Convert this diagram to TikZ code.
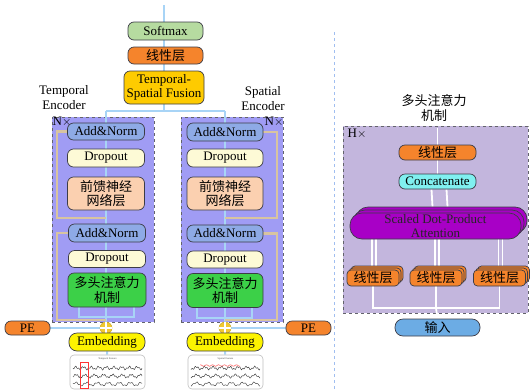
\documentclass[tikz,border=0pt]{standalone}
\usepackage{fontspec}
\setmainfont{Liberation Serif}
\newfontfamily\cjk{Noto Sans CJK SC}
\definecolor{bd}{RGB}{60,60,70}
\definecolor{lblue}{RGB}{168,212,246}
\definecolor{tanc}{RGB}{216,196,160}
\definecolor{encfill}{RGB}{160,156,244}
\definecolor{anfill}{RGB}{142,170,230}
\definecolor{dofill}{RGB}{253,250,214}
\definecolor{fffill}{RGB}{251,208,176}
\definecolor{mhafill}{RGB}{60,208,72}
\definecolor{smfill}{RGB}{182,219,160}
\definecolor{orng}{RGB}{245,132,44}
\definecolor{fusfill}{RGB}{254,203,0}
\definecolor{embfill}{RGB}{252,243,0}
\definecolor{goldc}{RGB}{240,200,48}
\definecolor{hfill}{RGB}{195,182,221}
\definecolor{catfill}{RGB}{128,240,240}
\definecolor{sdpafill}{RGB}{168,0,198}
\definecolor{infill}{RGB}{108,172,228}
\definecolor{sepc}{RGB}{160,190,240}
\pgfdeclarelayer{back}
\pgfdeclarelayer{mid}
\pgfsetlayers{back,mid,main}
\tikzset{
  nd/.style={draw=bd, line width=0.7pt, rounded corners=6pt, inner sep=0pt, align=center,
    font=\fontsize{13}{14.5}\selectfont, minimum width=76pt},
  bl/.style={draw=lblue, line width=2pt},
  tanl/.style={draw=tanc, line width=2.5pt},
  wl/.style={draw=white, line width=1.8pt},
  dashbox/.style={draw=bd!80, dashed, line width=0.8pt, inner sep=0pt},
  lbl/.style={inner sep=0pt, align=center, font=\fontsize{13}{15}\selectfont},
  feat/.style={draw=black!25, fill=white, rounded corners=4pt, line width=0.6pt, inner sep=0pt,
    minimum width=75pt, minimum height=34pt},
  wave/.style={line width=0.45pt, black!75},
}
\begin{document}
\begin{tikzpicture}[x=1pt,y=-1pt]
\useasboundingbox (0,0) rectangle (530,389);
% ---------- top stack ----------
\coordinate (top) at (164,5);
\node[nd, fill=smfill, minimum width=75pt, minimum height=18pt] (sm) at (165.5,31) {Softmax};
\node[nd, fill=orng, minimum width=75pt, minimum height=17pt] (lt) at (165.5,55.5) {\cjk 线性层};
\node[nd, fill=fusfill, minimum width=80pt, minimum height=33pt] (fus) at (164,87.5) {Temporal-\\Spatial Fusion};
\coordinate (jc) at (164,111);
\coordinate (jl) at (106,111);
\coordinate (jr) at (225,111);
\node[lbl] (tlab) at (64,98) {Temporal\\Encoder};
\node[lbl] (slab) at (263,99) {Spatial\\Encoder};
% ---------- encoder boxes ----------
\begin{pgfonlayer}{back}
\node[dashbox, fill=encfill, minimum width=102pt, minimum height=205pt] (encL) at (103,219.5) {};
\node[dashbox, fill=encfill, minimum width=102pt, minimum height=205pt] (encR) at (232,219.5) {};
\node[dashbox, fill=hfill, minimum width=185pt, minimum height=187pt] (hb) at (435.5,219.5) {};
\end{pgfonlayer}
\node[lbl] (nxl) at (62,122) {N$\times$};
\node[lbl] (nxr) at (274,122) {N$\times$};
% left encoder nodes
\node[nd, fill=anfill, minimum width=77pt, minimum height=17pt] (an1L) at (106,131.5) {Add\&Norm};
\node[nd, fill=dofill, minimum width=77pt, minimum height=18pt] (do1L) at (106,158) {Dropout};
\node[nd, fill=fffill, minimum width=77pt, minimum height=33pt] (ffL) at (106,193.5) {\cjk 前馈神经\\\cjk 网络层};
\node[nd, fill=anfill, minimum width=77pt, minimum height=18pt] (an2L) at (107,233) {Add\&Norm};
\node[nd, fill=dofill, minimum width=77pt, minimum height=17pt] (do2L) at (107,259) {Dropout};
\node[nd, fill=mhafill, minimum width=78pt, minimum height=34pt] (mhaL) at (107,290) {\cjk 多头注意力\\\cjk 机制};
% right encoder nodes
\node[nd, fill=anfill, minimum width=76pt, minimum height=18pt] (an1R) at (225,132) {Add\&Norm};
\node[nd, fill=dofill, minimum width=76pt, minimum height=18pt] (do1R) at (225,158) {Dropout};
\node[nd, fill=fffill, minimum width=76pt, minimum height=33pt] (ffR) at (225,193.5) {\cjk 前馈神经\\\cjk 网络层};
\node[nd, fill=anfill, minimum width=76pt, minimum height=17pt] (an2R) at (225,233.5) {Add\&Norm};
\node[nd, fill=dofill, minimum width=76pt, minimum height=17pt] (do2R) at (225,259.5) {Dropout};
\node[nd, fill=mhafill, minimum width=76pt, minimum height=34pt] (mhaR) at (225,290.5) {\cjk 多头注意力\\\cjk 机制};
% plus circles, PE, embedding
\node[circle, fill=goldc, draw=goldc!85!black, line width=0.5pt, minimum size=12pt, inner sep=0pt] (plL) at (106,328) {};
\node[circle, fill=goldc, draw=goldc!85!black, line width=0.5pt, minimum size=12pt, inner sep=0pt] (plR) at (225,328) {};
\draw[white, line width=1.3pt] (plL.north) -- (plL.south) (plL.west) -- (plL.east);
\draw[white, line width=1.3pt] (plR.north) -- (plR.south) (plR.west) -- (plR.east);
\node[nd, fill=orng, minimum width=45pt, minimum height=14pt] (peL) at (27.5,328) {PE};
\node[nd, fill=orng, minimum width=45pt, minimum height=14pt] (peR) at (308.5,328) {PE};
\node[nd, fill=embfill, minimum width=76pt, minimum height=18pt, rounded corners=8pt] (embL) at (107,342) {Embedding};
\node[nd, fill=embfill, minimum width=76pt, minimum height=18pt, rounded corners=8pt] (embR) at (225,342) {Embedding};
% feature images
\node[feat] (ftL) at (107.5,372) {};
\node[feat] (ftR) at (225.5,372) {};
\node[inner sep=0pt, font=\fontsize{2.6}{3}\selectfont, text=black!70] (ftLt) at (107.5,359) {Temporal Feature};
\node[inner sep=0pt, font=\fontsize{2.6}{3}\selectfont, text=black!70] (ftRt) at (225.5,359) {Spatial Feature};
\draw[wave] plot[domain=73:142, samples=90] (\x, {368+1.2*sin((\x-70)*47)+0.9*sin((\x-70)*113)});
\draw[wave] plot[domain=73:142, samples=90] (\x, {376+1.4*sin((\x-70)*39+40)+0.8*sin((\x-70)*131)});
\draw[wave] plot[domain=73:142, samples=90] (\x, {384+1.5*sin((\x-70)*33+80)+0.7*sin((\x-70)*97)});
\draw[red!80, line width=0.5pt] (80,362) rectangle (88,388);
\draw[wave] plot[domain=191:260, samples=90] (\x, {368+1.2*sin((\x-190)*43)+0.9*sin((\x-190)*121)});
\draw[red!70, line width=0.45pt] plot[domain=200:240, samples=40] (\x, {365.5+0.8*sin((\x-190)*60)});
\draw[wave] plot[domain=191:260, samples=90] (\x, {376+1.4*sin((\x-190)*37+30)+0.8*sin((\x-190)*109)});
\draw[wave] plot[domain=191:260, samples=90] (\x, {384+1.5*sin((\x-190)*31+70)+0.7*sin((\x-190)*89)});
% ---------- left-side connectors ----------
\begin{pgfonlayer}{mid}
\draw[bl] (top) -- (jc);
\draw[bl] (jl) -- (jr);
\draw[bl] (jl) -- (plL);
\draw[bl] (jr) -- (plR);
\draw[bl] ([xshift=-28pt]mhaL.south) -- ++(0,10) -| ([xshift=27pt]mhaL.south);
\draw[bl] ([xshift=-28pt]mhaR.south) -- ++(0,10) -| ([xshift=27pt]mhaR.south);
\draw[bl] (peL) -- (plL);
\draw[bl] (peR) -- (plR);
\draw[bl] (plL) -- (embL) -- (ftL);
\draw[bl] (plR) -- (embR) -- (ftR);
\draw[tanl] (an1L.west) -- (57,131.5) |- (106,218);
\draw[tanl] (an2L.west) -- (57,233) |- (106,320);
\draw[tanl] (an1R.east) -- (277,132) |- (225,218);
\draw[tanl] (an2R.east) -- (277,233.5) |- (225,320);
\end{pgfonlayer}
% ---------- separator ----------
\coordinate (s1) at (334,32);
\coordinate (s2) at (334,389);
\draw[sepc, line width=0.9pt, dash pattern=on 3pt off 3pt] (s1) -- (s2);
% ---------- right panel ----------
\node[lbl] (mtitle) at (434,108) {\cjk 多头注意力\\\cjk 机制};
\node[lbl] (hx) at (357,134) {H$\times$};
\coordinate (hout) at (437.5,128);
\node[nd, fill=orng, minimum width=77pt, minimum height=15pt] (linR) at (437.5,152.5) {\cjk 线性层};
\node[nd, fill=catfill, minimum width=77pt, minimum height=15pt] (cat) at (437.5,181.5) {Concatenate};
\node[nd, fill=sdpafill, minimum width=171pt, minimum height=26pt, rounded corners=12pt] (sd3) at (441.5,220) {};
\node[nd, fill=sdpafill, minimum width=171pt, minimum height=26pt, rounded corners=12pt] (sd2) at (438.5,223) {};
\node[nd, fill=sdpafill, minimum width=171pt, minimum height=26pt, rounded corners=12pt, text=black!85] (sd) at (435.5,226) {Scaled Dot-Product\\Attention};
\foreach \n/\cx in {a/373,b/436,c/499.5}{
  \node[nd, fill=orng, minimum width=52pt, minimum height=16pt, rounded corners=4pt] (l\n3) at (\cx+4,274) {};
  \node[nd, fill=orng, minimum width=52pt, minimum height=16pt, rounded corners=4pt] (l\n2) at (\cx+2,276) {};
  \node[nd, fill=orng, minimum width=52pt, minimum height=16pt, rounded corners=4pt] (l\n) at (\cx,278) {\cjk 线性层};
}
\node[nd, fill=infill, minimum width=85pt, minimum height=17pt, rounded corners=8pt] (inp) at (437.5,327.5) {\cjk 输入};
\coordinate (bj) at (436,308);
\begin{pgfonlayer}{mid}
\draw[wl] (linR.north) -- (hout);
\draw[wl] (linR) -- (cat);
\draw[wl] ([xshift=-6pt]cat.south) -- ([xshift=-9pt]sd3.north);
\draw[wl] ([xshift=9pt]cat.south) -- ([xshift=6pt]sd3.north);
\foreach \n in {a,b,c}{
  \draw[wl] ([xshift=-1pt]l\n3.north) -- ++(0,-30);
  \draw[wl] ([xshift=-5pt]l\n3.north) -- ++(0,-30);
}
\draw[wl] (la.south) |- (bj) -| (lc.south);
\draw[wl] (lb.south) -- (bj);
\draw[wl] (inp.north) -- (bj);
\end{pgfonlayer}
\end{tikzpicture}
\end{document}
